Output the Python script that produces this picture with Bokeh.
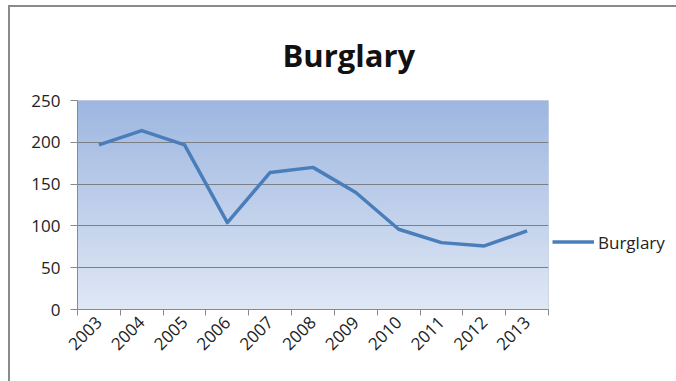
import numpy as np
from bokeh.plotting import figure
from bokeh.models import FixedTicker, Range1d, Legend, LegendItem
from bokeh.embed import file_html
from bokeh.resources import INLINE
from math import pi

years = ["2003", "2004", "2005", "2006", "2007", "2008", "2009", "2010", "2011", "2012", "2013"]
burglary = [197, 214, 197, 104, 164, 170, 140, 96, 80, 76, 94]
y_ticks = [0, 50, 100, 150, 200, 250]

FONT = "Open Sans"
xs = [i + 0.5 for i in range(len(years))]

W, H = 666, 374
p = figure(frame_width=471, frame_height=209, output_backend="svg", toolbar_location=None,
           x_range=Range1d(0, len(years)), y_range=Range1d(0, 250),
           min_border_left=67, min_border_right=W - 67 - 471, min_border_top=90,
           min_border_bottom=H - 90 - 209)
p.margin = (5, 0, 0, 8)
p.styles = {"border-left": "2px solid #8a8a8a", "border-top": "2px solid #8a8a8a"}

p.title.text = "Burglary"
p.title.align = "left"
p.title.offset = 205
p.title.text_font = FONT
p.title.text_font_size = "31px"
p.title.text_font_style = "bold"
p.title.text_color = "#111111"
p.title.standoff = 49

# gradient background for plot area
n = 120
top = np.array([158, 183, 225])
bot = np.array([224, 232, 245])
img = np.empty((n, 2), dtype=np.uint32)
view = img.view(dtype=np.uint8).reshape((n, 2, 4))
for r in range(n):
    t = r / (n - 1)
    c = bot + (top - bot) * t
    view[r, :, 0] = int(c[0]); view[r, :, 1] = int(c[1]); view[r, :, 2] = int(c[2]); view[r, :, 3] = 255
p.image_rgba(image=[img], x=0, y=0, dw=len(years), dh=250, level="image")

r = p.line(xs, burglary, line_width=3.5, line_color="#4A7EBB", line_join="round")

legend = Legend(items=[LegendItem(label="Burglary", renderers=[r])], location="center_left")
legend.title = " "
legend.title_text_font_size = "56px"
legend.title_standoff = 9
legend.background_fill_alpha = 0
legend.border_line_color = None
legend.label_text_font = FONT
legend.label_text_font_size = "17px"
legend.label_text_color = "#222222"
legend.glyph_width = 42
legend.label_standoff = 4
legend.padding = 2
legend.margin = 4
p.add_layout(legend, "right")

p.xaxis.ticker = FixedTicker(ticks=xs, minor_ticks=list(range(len(years) + 1)))
p.xaxis.major_label_overrides = {x: y for x, y in zip(xs, years)}
p.xaxis.major_label_orientation = pi / 4
p.xaxis.major_tick_line_color = None
p.xaxis.minor_tick_out = 6
p.xaxis.minor_tick_in = 0
p.xaxis.minor_tick_line_color = "#8a8a8a"
p.xaxis.major_label_standoff = 4

p.yaxis.ticker = FixedTicker(ticks=y_ticks)
p.yaxis.major_tick_out = 7
p.yaxis.major_tick_in = 0
p.yaxis.minor_tick_line_color = None
p.yaxis.major_tick_line_color = "#8a8a8a"
p.yaxis.major_label_standoff = 10

for ax in (p.xaxis, p.yaxis):
    ax.axis_line_color = "#8a8a8a"
    ax.major_label_text_font = FONT
    ax.major_label_text_font_size = "17px"
    ax.major_label_text_color = "#222222"

p.xgrid.grid_line_color = None
p.ygrid.ticker = FixedTicker(ticks=[50, 100, 150, 200])
p.ygrid.grid_line_color = "#7a7f88"
p.ygrid.grid_line_width = 1
p.outline_line_color = "#c8d2e2"
p.background_fill_color = "#dde5f3"
p.border_fill_color = "white"

open("out.html", "w").write(file_html(p, INLINE))
